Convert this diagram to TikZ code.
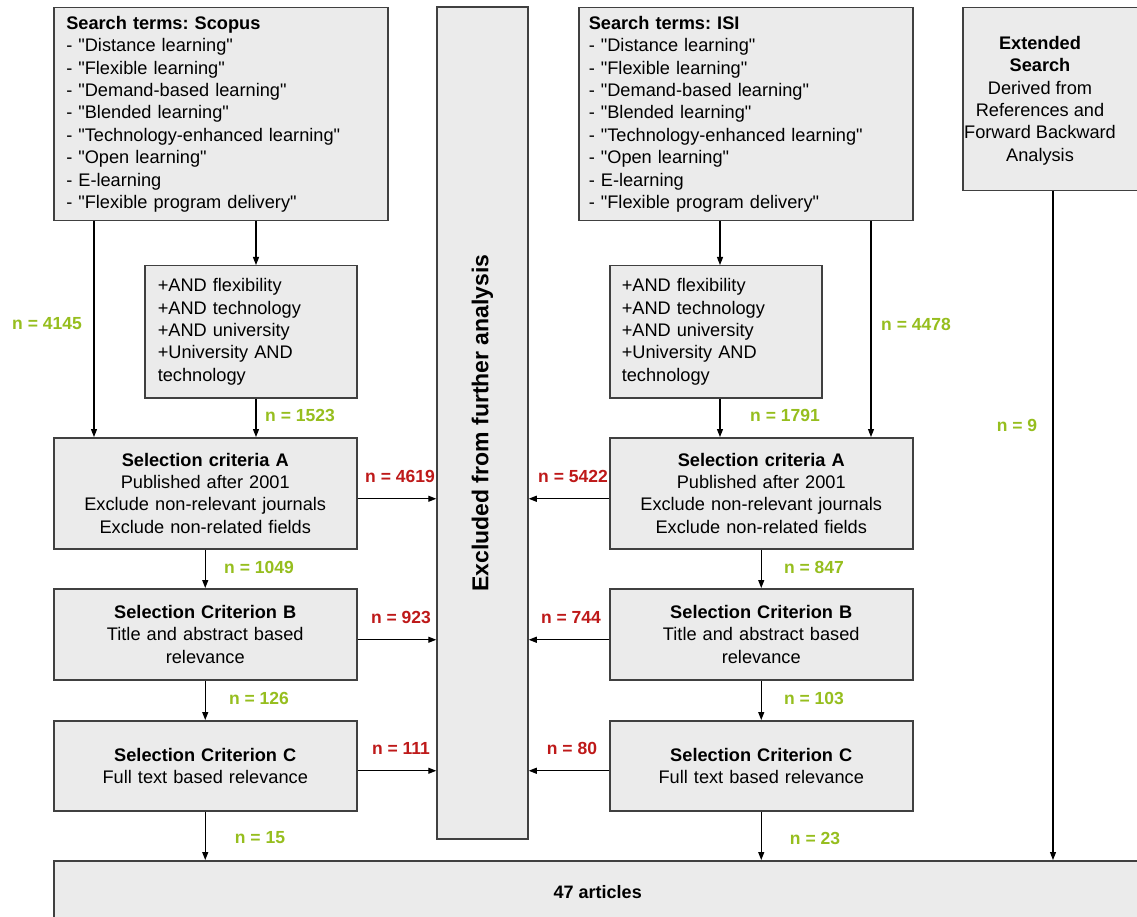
\documentclass[tikz,border=0pt]{standalone}
\usepackage{fontspec}
\setmainfont{Liberation Sans}[Ligatures=TeXOff]
\usetikzlibrary{arrows.meta}
\definecolor{boxfill}{RGB}{235,235,235}
\definecolor{boxline}{RGB}{64,64,64}
\definecolor{ngreen}{RGB}{150,190,30}
\definecolor{nred}{RGB}{190,25,25}
\frenchspacing
\begin{document}
\begin{tikzpicture}[x=1pt,y=-1pt,
  box/.style={draw=boxline, fill=boxfill, line width=1.5pt, inner sep=0pt,
    anchor=north west, font=\fontsize{18.2}{22.4}\selectfont},
  arr/.style={-{Triangle[length=8pt,width=6pt]}, line width=1.1pt, black},
  gl/.style={text=ngreen, inner sep=0pt, font=\bfseries\fontsize{17.5}{20}\selectfont},
  rl/.style={text=nred, inner sep=0pt, font=\bfseries\fontsize{17.5}{20}\selectfont},
  txt/.style={inner sep=0pt, align=center, font=\fontsize{18.2}{22.4}\selectfont}]
\clip (0,0) rectangle (1137,917);
\fill[white] (0,0) rectangle (1137,917);

% search boxes
\node[box, minimum width=334pt, minimum height=213pt, text width=309pt, align=left] (scopus) at (53,7)
  {\textbf{Search terms: Scopus}\\- "Distance learning"\\- "Flexible learning"\\- "Demand-based learning"\\- "Blended learning"\\- "Technology-enhanced learning"\\- "Open learning"\\- E-learning\\- "Flexible program delivery"};
\node[box, minimum width=334pt, minimum height=213pt, text width=314pt, align=left] (isi) at (578,7)
  {\textbf{Search terms: ISI}\\- "Distance learning"\\- "Flexible learning"\\- "Demand-based learning"\\- "Blended learning"\\- "Technology-enhanced learning"\\- "Open learning"\\- E-learning\\- "Flexible program delivery"};
\node[box, minimum width=200pt, minimum height=183pt] (ext) at (962,7) {};
\node[txt] (exttext) at (1040,100.5)
  {\textbf{Extended}\\\textbf{Search}\\Derived from\\References and\\Forward Backward\\Analysis};

% excluded column
\node[draw=boxline, fill=boxfill, line width=1.5pt, inner sep=0pt, rotate=90,
  minimum width=832pt, minimum height=91pt, font=\bfseries\fontsize{23}{26}\selectfont]
  (excl) at (482.5,423) {Excluded from further analysis};

% AND boxes
\node[box, minimum width=212pt, minimum height=132pt, text width=186pt, align=left] (andL) at (144,265)
  {+AND flexibility\\+AND technology\\+AND university\\+University AND\\technology};
\node[box, minimum width=212pt, minimum height=132pt, text width=188pt, align=left] (andR) at (609,265)
  {+AND flexibility\\+AND technology\\+AND university\\+University AND\\technology};

% selection boxes
\node[box, minimum width=303pt, minimum height=111pt, text width=293pt, align=center] (selAL) at (53,437)
  {\textbf{Selection criteria A}\\Published after 2001\\Exclude non-relevant journals\\Exclude non-related fields};
\node[box, minimum width=303pt, minimum height=111pt, text width=293pt, align=center] (selAR) at (609,437)
  {\textbf{Selection criteria A}\\Published after 2001\\Exclude non-relevant journals\\Exclude non-related fields};
\node[box, minimum width=303pt, minimum height=91pt, text width=293pt, align=center] (selBL) at (53,588)
  {\textbf{Selection Criterion B}\\Title and abstract based\\relevance};
\node[box, minimum width=303pt, minimum height=91pt, text width=293pt, align=center] (selBR) at (609,588)
  {\textbf{Selection Criterion B}\\Title and abstract based\\relevance};
\node[box, minimum width=303pt, minimum height=90pt, text width=293pt, align=center] (selCL) at (53,720)
  {\textbf{Selection Criterion C}\\Full text based relevance};
\node[box, minimum width=303pt, minimum height=90pt, text width=293pt, align=center] (selCR) at (609,720)
  {\textbf{Selection Criterion C}\\Full text based relevance};

% final box
\node[box, minimum width=1088pt, minimum height=62pt, font=\bfseries\fontsize{18}{22}\selectfont] (fin) at (53,860) {47 articles};

% vertical arrows, left
\draw[arr] ([xshift=41pt]scopus.south west) -- ([xshift=41pt]selAL.north west);
\draw[arr] ([xshift=203pt]scopus.south west) -- ([xshift=112pt]andL.north west);
\draw[arr] ([xshift=112pt]andL.south west) -- ([xshift=203pt]selAL.north west);
\draw[arr] (selAL.south) -- (selBL.north);
\draw[arr] (selBL.south) -- (selCL.north);
\draw[arr] (selCL.south) -- (selCL.south |- fin.north);
% vertical arrows, right
\draw[arr] ([xshift=142pt]isi.south west) -- ([xshift=111pt]andR.north west);
\draw[arr] ([xshift=293pt]isi.south west) -- ([xshift=262pt]selAR.north west);
\draw[arr] ([xshift=111pt]andR.south west) -- ([xshift=111pt]selAR.north west);
\draw[arr] (selAR.south) -- (selBR.north);
\draw[arr] (selBR.south) -- (selCR.north);
\draw[arr] (selCR.south) -- (selCR.south |- fin.north);
\draw[arr] ([xshift=91pt]ext.south west) -- ([xshift=1000pt]fin.north west);

% horizontal arrows to excluded
\draw[arr] ([yshift=-5.5pt]selAL.east) -- ([yshift=-5.5pt]selAL.east -| excl.north);
\draw[arr] ([yshift=-5.5pt]selBL.east) -- ([yshift=-5.5pt]selBL.east -| excl.north);
\draw[arr] ([yshift=-5pt]selCL.east) -- ([yshift=-5pt]selCL.east -| excl.north);
\draw[arr] ([yshift=-5.5pt]selAR.west) -- ([yshift=-5.5pt]selAR.west -| excl.south);
\draw[arr] ([yshift=-5.5pt]selBR.west) -- ([yshift=-5.5pt]selBR.west -| excl.south);
\draw[arr] ([yshift=-5pt]selCR.west) -- ([yshift=-5pt]selCR.west -| excl.south);

% counts
\node[gl] (n4145) at (47,324) {n = 4145};
\node[gl] (n1523) at (300,415) {n = 1523};
\node[gl] (n4478) at (916,324) {n = 4478};
\node[gl] (n1791) at (785,415) {n = 1791};
\node[gl] (n9) at (1017,425) {n = 9};
\node[gl] (n1049) at (259,567) {n = 1049};
\node[gl] (n847) at (814,567) {n = 847};
\node[gl] (n126) at (259,698) {n = 126};
\node[gl] (n103) at (814,698) {n = 103};
\node[gl] (n15) at (260,838) {n = 15};
\node[gl] (n23) at (815,838) {n = 23};
\node[rl] (n4619) at (400,476) {n = 4619};
\node[rl] (n5422) at (573,476) {n = 5422};
\node[rl] (n923) at (401,617) {n = 923};
\node[rl] (n744) at (571,617) {n = 744};
\node[rl] (n111) at (401,748) {n = 111};
\node[rl] (n80) at (572,748) {n = 80};
\end{tikzpicture}
\end{document}
